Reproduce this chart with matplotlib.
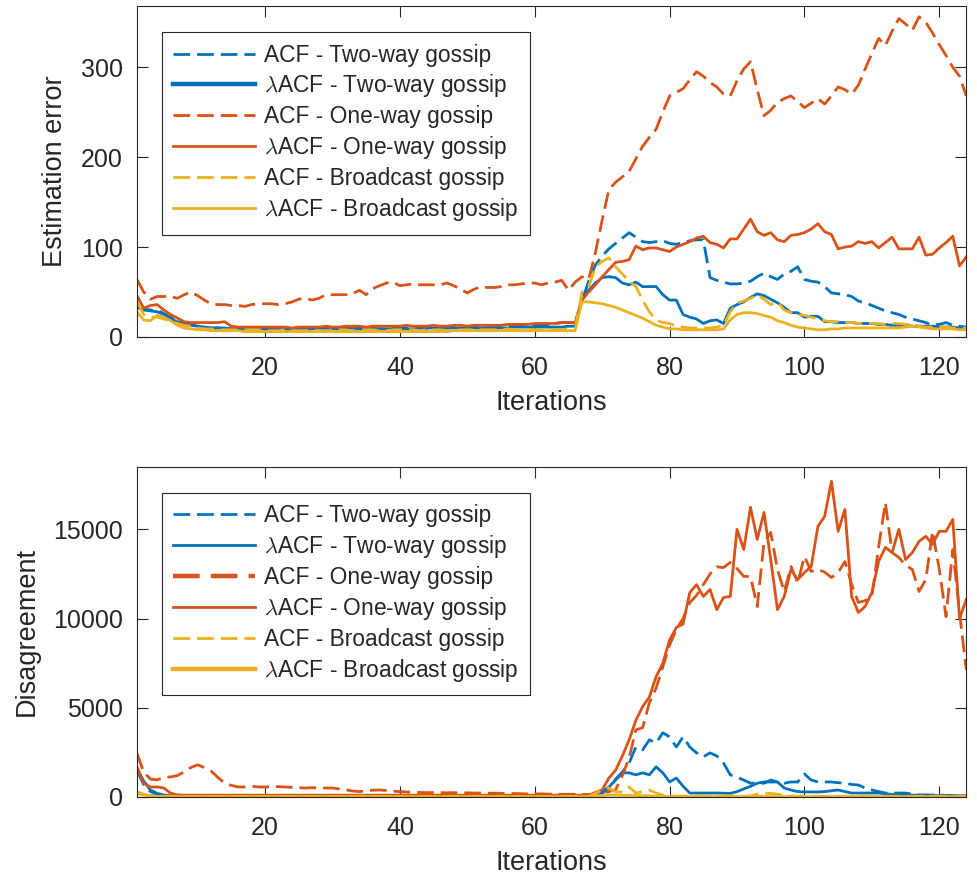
import matplotlib
matplotlib.use("Agg")
import matplotlib.pyplot as plt
import numpy as np

plt.rcParams['font.family'] = ['Liberation Sans', 'DejaVu Sans']
plt.rcParams['mathtext.fontset'] = 'cm'

iters = np.arange(1, 125)

labels = ['ACF - Two-way gossip', r'$\lambda$ACF - Two-way gossip',
          'ACF - One-way gossip', r'$\lambda$ACF - One-way gossip',
          'ACF - Broadcast gossip', r'$\lambda$ACF - Broadcast gossip']

# estimation error
acf_tw_err = [35, 31, 30, 30, 26, 22, 19, 16, 14, 12,
              11, 10, 10, 10, 9, 9, 9, 9, 9, 9,
              9, 9, 9, 8, 9, 9, 10, 9, 10, 9,
              10, 10, 9, 10, 10, 10, 9, 9, 10, 10,
              10, 11, 10, 10, 11, 10, 10, 11, 11, 10,
              11, 11, 12, 11, 12, 12, 12, 13, 13, 13,
              13, 14, 15, 16, 16, 16, 40, 62, 80, 90,
              98, 104, 110, 116, 111, 106, 105, 106, 107, 104,
              103, 105, 107, 108, 108, 66, 63, 61, 59, 59,
              60, 62, 67, 71, 67, 64, 70, 73, 78, 64,
              62, 61, 56, 49, 48, 47, 45, 40, 38, 35,
              32, 29, 27, 25, 22, 20, 18, 16, 13, 14,
              16, 13, 12, 11]
lacf_tw_err = [33, 30, 29, 28, 25, 20, 17, 15, 13, 12,
               11, 10, 10, 10, 9, 9, 9, 9, 9, 9,
               9, 9, 9, 9, 9, 8, 9, 9, 9, 9,
               9, 9, 9, 9, 9, 9, 9, 9, 9, 9,
               9, 9, 9, 10, 10, 10, 10, 10, 10, 10,
               10, 10, 10, 10, 10, 10, 11, 11, 11, 11,
               11, 11, 11, 11, 12, 12, 41, 52, 60, 66,
               67, 66, 60, 58, 61, 56, 56, 56, 47, 41,
               41, 25, 22, 20, 15, 18, 19, 15, 32, 36,
               39, 44, 48, 46, 42, 38, 33, 27, 27, 22,
               23, 23, 17, 17, 16, 16, 16, 15, 15, 15,
               14, 14, 13, 13, 13, 12, 12, 12, 12, 11,
               11, 11, 10, 10]
acf_ow_err = [64, 50, 42, 45, 45, 45, 43, 47, 50, 46,
              41, 37, 36, 36, 35, 35, 34, 36, 37, 37,
              37, 36, 37, 39, 42, 43, 41, 43, 47, 47,
              47, 47, 48, 52, 47, 54, 57, 60, 61, 57,
              58, 59, 58, 58, 58, 58, 60, 57, 53, 49,
              53, 56, 55, 55, 56, 58, 58, 59, 60, 60,
              58, 60, 61, 63, 52, 61, 67, 64, 94, 130,
              164, 172, 178, 184, 198, 212, 222, 231, 250, 268,
              272, 276, 286, 295, 290, 283, 278, 270, 268, 285,
              298, 306, 275, 246, 252, 261, 265, 268, 262, 255,
              260, 265, 259, 268, 278, 275, 270, 280, 298, 315,
              332, 324, 340, 354, 348, 341, 356, 350, 338, 325,
              313, 300, 290, 268]
lacf_ow_err = [46, 32, 35, 36, 30, 25, 21, 17, 16, 16,
               16, 16, 16, 17, 12, 11, 11, 11, 11, 11,
               11, 11, 11, 10, 11, 11, 11, 11, 12, 11,
               11, 12, 12, 12, 11, 12, 12, 12, 12, 12,
               13, 12, 12, 12, 13, 12, 12, 13, 13, 12,
               13, 13, 13, 13, 13, 14, 14, 14, 14, 15,
               15, 15, 15, 16, 16, 16, 41, 50, 58, 67,
               75, 83, 84, 86, 101, 97, 99, 99, 97, 95,
               100, 103, 106, 110, 112, 105, 103, 99, 109, 109,
               120, 131, 117, 113, 116, 108, 106, 113, 114, 116,
               120, 126, 117, 114, 98, 100, 101, 106, 104, 106,
               99, 105, 111, 98, 98, 98, 111, 91, 92, 99,
               105, 112, 79, 89]
acf_bc_err = [40, 25, 22, 22, 20, 18, 15, 13, 12, 10,
              9, 9, 8, 8, 8, 8, 8, 8, 8, 7,
              7, 7, 8, 7, 7, 7, 8, 7, 7, 8,
              8, 8, 7, 8, 8, 8, 7, 7, 8, 8,
              8, 8, 7, 8, 8, 8, 7, 7, 8, 8,
              8, 8, 8, 8, 8, 9, 8, 8, 8, 8,
              8, 8, 8, 8, 9, 9, 50, 56, 78, 84,
              88, 78, 70, 62, 56, 41, 28, 19, 16, 15,
              12, 11, 10, 10, 10, 10, 11, 13, 28, 38,
              40, 43, 47, 42, 36, 39, 30, 27, 25, 24,
              22, 20, 18, 17, 17, 16, 16, 15, 15, 15,
              15, 14, 15, 15, 14, 14, 12, 11, 11, 11,
              11, 10, 10, 10]
lacf_bc_err = [28, 19, 18, 24, 22, 18, 13, 10, 9, 8,
               8, 7, 7, 7, 7, 7, 6, 6, 6, 6,
               6, 6, 6, 6, 6, 6, 6, 6, 6, 6,
               6, 6, 6, 6, 6, 6, 6, 6, 6, 6,
               6, 6, 6, 6, 6, 6, 6, 7, 7, 7,
               7, 7, 7, 7, 7, 7, 7, 7, 7, 7,
               7, 7, 7, 7, 7, 7, 39, 39, 38, 37,
               35, 33, 30, 27, 24, 21, 17, 13, 11, 9,
               9, 8, 8, 8, 8, 8, 8, 9, 19, 25,
               27, 27, 26, 24, 22, 18, 16, 13, 11, 10,
               9, 8, 8, 9, 9, 10, 10, 10, 10, 10,
               10, 10, 10, 10, 11, 12, 11, 10, 9, 9,
               9, 9, 8, 8]

# disagreement
acf_tw_dis = [1500, 700, 300, 150, 80, 60, 50, 40, 40, 40,
              40, 40, 30, 30, 30, 30, 30, 30, 30, 30,
              30, 30, 30, 30, 30, 30, 30, 30, 30, 30,
              30, 30, 30, 30, 30, 30, 30, 30, 30, 30,
              30, 30, 30, 30, 30, 30, 30, 30, 30, 30,
              30, 30, 30, 30, 30, 30, 30, 30, 30, 30,
              30, 30, 30, 30, 30, 30, 40, 50, 80, 200,
              500, 1000, 1400, 1900, 2800, 2640, 3200, 3030, 3600, 3370,
              2800, 3370, 2800, 2470, 2250, 2470, 2300, 1900, 1240, 1100,
              950, 770, 770, 770, 950, 840, 770, 840, 840, 1290,
              950, 840, 840, 840, 800, 770, 700, 670, 500, 390,
              300, 220, 220, 220, 220, 150, 110, 110, 110, 110,
              80, 50, 50, 50]
lacf_tw_dis = [1600, 900, 390, 200, 110, 60, 40, 30, 30, 30,
               30, 25, 25, 25, 20, 20, 20, 20, 20, 20,
               20, 20, 20, 20, 20, 20, 20, 20, 20, 20,
               20, 20, 20, 20, 20, 20, 20, 20, 20, 20,
               20, 20, 20, 20, 20, 20, 20, 20, 20, 20,
               20, 20, 20, 20, 20, 20, 20, 20, 20, 20,
               20, 20, 20, 20, 20, 20, 20, 30, 50, 300,
               560, 950, 1350, 1350, 1240, 1350, 1240, 1690, 1350, 840,
               1060, 600, 220, 220, 220, 220, 220, 210, 200, 300,
               450, 600, 770, 840, 840, 840, 500, 390, 300, 280,
               280, 280, 300, 350, 390, 300, 220, 220, 220, 220,
               220, 180, 150, 120, 110, 100, 100, 90, 80, 80,
               80, 70, 70, 70]
acf_ow_dis = [2450, 1400, 1000, 960, 1100, 1120, 1200, 1400, 1650, 1800,
              1650, 1450, 1100, 770, 650, 560, 560, 600, 560, 560,
              560, 580, 560, 540, 520, 500, 520, 500, 500, 500,
              450, 400, 330, 300, 350, 380, 390, 360, 320, 300,
              280, 260, 250, 240, 250, 240, 230, 240, 230, 230,
              220, 220, 210, 210, 200, 200, 190, 180, 170, 170,
              170, 160, 160, 150, 150, 150, 140, 140, 150, 200,
              300, 400, 1200, 2200, 3760, 3880, 5280, 6100, 7300, 8500,
              9400, 10000, 10900, 11300, 11900, 12500, 12900, 12860, 13150, 12800,
              12360, 12360, 10670, 14270, 14830, 12750, 11500, 12920, 12020, 13480,
              12640, 12750, 12600, 12300, 12580, 13200, 11910, 10900, 11000, 11240,
              14000, 16500, 13700, 13420, 13000, 12750, 11520, 12190, 14890, 12750,
              10110, 13870, 10340, 7130]
lacf_ow_dis = [1700, 770, 560, 560, 500, 210, 120, 100, 100, 100,
               100, 100, 100, 100, 100, 100, 100, 100, 100, 100,
               100, 100, 100, 100, 100, 100, 100, 100, 100, 100,
               100, 100, 100, 100, 100, 100, 100, 100, 100, 100,
               100, 100, 100, 100, 100, 100, 100, 100, 100, 100,
               100, 100, 100, 100, 100, 100, 100, 100, 100, 100,
               100, 100, 100, 100, 100, 100, 100, 100, 250, 400,
               1060, 1500, 2300, 3200, 4300, 5060, 5600, 6740, 7500, 8800,
               9500, 9700, 11460, 11900, 11240, 11630, 10500, 11180, 11240, 15000,
               13870, 16240, 14440, 15950, 13300, 10500, 11240, 12750, 12190, 12580,
               12920, 15170, 15730, 17700, 14890, 16120, 11240, 10340, 10680, 11460,
               13200, 13990, 13700, 15000, 13310, 13700, 14330, 14610, 14160, 14890,
               14890, 15560, 10000, 11070]
acf_bc_dis = [300, 150, 80, 50, 40, 30, 30, 30, 30, 30,
              30, 30, 30, 30, 30, 30, 30, 30, 30, 30,
              30, 30, 30, 30, 30, 30, 30, 30, 30, 30,
              30, 30, 30, 30, 30, 30, 30, 30, 30, 30,
              30, 30, 30, 30, 30, 30, 30, 30, 30, 30,
              30, 30, 30, 30, 30, 30, 30, 30, 30, 30,
              30, 30, 30, 30, 30, 30, 30, 30, 200, 390,
              500, 280, 280, 560, 220, 300, 390, 220, 100, 60,
              50, 50, 50, 50, 50, 50, 50, 50, 50, 50,
              40, 60, 150, 200, 200, 150, 80, 50, 40, 40,
              40, 40, 40, 40, 40, 40, 40, 40, 40, 40,
              40, 40, 40, 40, 40, 40, 40, 40, 40, 40,
              40, 40, 40, 40]
lacf_bc_dis = [200, 100, 50, 30, 20, 20, 20, 20, 20, 20,
               20, 20, 20, 20, 20, 20, 20, 20, 20, 20,
               20, 20, 20, 20, 20, 20, 20, 20, 20, 20,
               20, 20, 20, 20, 20, 20, 20, 20, 20, 20,
               20, 20, 20, 20, 20, 20, 20, 20, 20, 20,
               20, 20, 20, 20, 20, 20, 20, 20, 20, 20,
               20, 20, 20, 20, 20, 20, 20, 30, 60, 80,
               100, 100, 90, 90, 80, 70, 60, 40, 30, 20,
               20, 20, 20, 20, 20, 20, 20, 20, 20, 20,
               20, 30, 40, 40, 30, 20, 20, 20, 20, 20,
               20, 20, 20, 20, 20, 20, 20, 20, 20, 20,
               20, 20, 20, 20, 20, 20, 20, 20, 20, 20,
               20, 20, 20, 20]

colors = ['#0072BD', '#0072BD', '#D95319', '#D95319', '#EDB120', '#EDB120']
styles = ['--', '-', '--', '-', '--', '-']

fig = plt.figure(figsize=(9.78, 8.81), dpi=100)
ax1 = fig.add_axes([0.140, 0.6175, 0.848, 0.3757])
ax2 = fig.add_axes([0.140, 0.0954, 0.848, 0.3746])


def draw(ax, series, ylabel, ylim, yticks, thick):
    for s, c, ls, lab in zip(series, colors, styles, labels):
        ln, = ax.plot(iters, s, color=c, linestyle=ls, linewidth=2, label=lab)
        if ls == '--':
            ln.set_dashes((6, 2.5))
    ax.set_xlim(1, 124)
    ax.set_ylim(*ylim)
    ax.set_xticks([20, 40, 60, 80, 100, 120])
    ax.set_yticks(yticks)
    ax.set_xlabel('Iterations', fontsize=19.5, color='#262626', labelpad=7)
    ax.set_ylabel(ylabel, fontsize=19.5, color='#262626', labelpad=9.5)
    ax.tick_params(direction='in', length=8, width=0.8, top=True, right=True,
                   labelsize=18, colors='#262626')
    ax.tick_params(axis='x', pad=14)
    ax.tick_params(axis='y', pad=10)
    for sp in ax.spines.values():
        sp.set_color('#262626')
        sp.set_linewidth(0.8)
    leg = ax.legend(loc='upper left', bbox_to_anchor=(0.03, 0.921), borderaxespad=0,
                    fontsize=16.4, fancybox=False, framealpha=1, edgecolor='#262626',
                    handlelength=3.6, handletextpad=0.4, labelspacing=0.26,
                    borderpad=0.5)
    leg.get_frame().set_linewidth(0.8)
    for t in leg.get_texts():
        t.set_color('#262626')
    # a couple of legend samples are drawn heavier
    for i, h in enumerate(leg.get_lines()):
        h.set_linewidth(3.2 if i in thick else 2)


draw(ax1, [acf_tw_err, lacf_tw_err, acf_ow_err, lacf_ow_err, acf_bc_err, lacf_bc_err],
     'Estimation error', (0, 368), [0, 100, 200, 300], [1])
draw(ax2, [acf_tw_dis, lacf_tw_dis, acf_ow_dis, lacf_ow_dis, acf_bc_dis, lacf_bc_dis],
     'Disagreement', (0, 18500), [0, 5000, 10000, 15000], [2, 5])

fig.savefig('out.png', dpi=100)
